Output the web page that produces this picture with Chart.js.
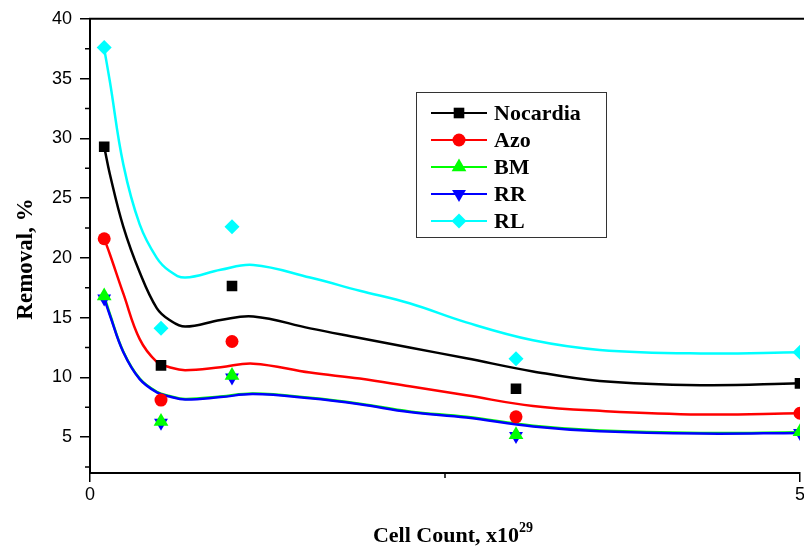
<!DOCTYPE html>
<html>
<head>
<meta charset="utf-8">
<script src="https://cdn.jsdelivr.net/npm/chart.js@4"></script>
<style>
  html, body { margin: 0; padding: 0; background: #fff; overflow: hidden; }
  canvas { display: block; }
</style>
</head>
<body>
<canvas id="grafiek" width="830" height="546"></canvas>
<script>
// meetpunten
var cellCount = [0.1, 0.5, 1, 3, 5];
var nocardia = [29.3, 11.0, 17.65, 9.05, 9.5];
var azo = [21.6, 8.1, 13.0, 6.7, 7.0];
var bm = [16.8, 6.3, 10.15, 5.2, 5.45];
var rr = [16.6, 6.2, 10.0, 5.1, 5.35];
var rl = [37.6, 14.1, 22.6, 11.55, 12.1];

var curveX = [0.1, 0.14, 0.235, 0.35, 0.47, 0.56, 0.67, 0.92, 1.15, 1.55, 1.9, 2.25, 2.65, 3.12, 3.59, 4.3, 5];
var nocardiaFit = [29.3, 27.0, 22.6, 18.8, 15.8, 14.8, 14.25, 14.8, 15.1, 14.1, 13.3, 12.5, 11.6, 10.5, 9.7, 9.35, 9.5];
var azoFit = [21.6, 20.3, 17.0, 13.2, 11.3, 10.85, 10.6, 10.85, 11.15, 10.4, 9.9, 9.25, 8.5, 7.6, 7.2, 6.9, 7.0];
var bmFit = [16.8, 15.3, 12.15, 9.9, 8.8, 8.45, 8.2, 8.4, 8.65, 8.3, 7.8, 7.15, 6.7, 5.95, 5.55, 5.35, 5.4];
var rrFit = [16.6, 15.2, 12.1, 9.85, 8.75, 8.4, 8.15, 8.35, 8.6, 8.25, 7.75, 7.1, 6.65, 5.9, 5.5, 5.3, 5.35];
var rlFit = [37.5, 34.75, 27.8, 22.8, 20.0, 18.9, 18.35, 19.0, 19.4, 18.35, 17.25, 16.2, 14.6, 13.1, 12.3, 12.0, 12.1];

// assen
var xTicks = [0, 5];
var xMinorTicks = [2.5];
var yTicks = [5, 10, 15, 20, 25, 30, 35, 40];
var yMinorTicks = [2.5, 7.5, 12.5, 17.5, 22.5, 27.5, 32.5, 37.5];

var series = [
  { label: 'Nocardia', color: '#000000', style: 'rect', radius: 7.5, rotation: 0, points: nocardia, fit: nocardiaFit },
  { label: 'Azo', color: '#ff0000', style: 'circle', radius: 6.5, rotation: 0, points: azo, fit: azoFit },
  { label: 'BM', color: '#00ff00', style: 'triangle', radius: 8.5, rotation: 0, points: bm, fit: bmFit },
  { label: 'RR', color: '#0000ff', style: 'triangle', radius: 8, rotation: 180, points: rr, fit: rrFit },
  { label: 'RL', color: '#00ffff', style: 'rectRot', radius: 7.5, rotation: 0, points: rl, fit: rlFit }
];

function paren(xs, ys) {
  return xs.map(function (x, i) { return { x: x, y: ys[i] }; });
}

var datasets = [];
// markers eerst (bovenop getekend)
series.forEach(function (s) {
  datasets.push({
    label: s.label,
    data: paren(cellCount, s.points),
    showLine: false,
    pointStyle: s.style,
    pointRadius: s.radius,
    pointRotation: s.rotation,
    pointBackgroundColor: s.color,
    pointBorderColor: s.color,
    pointBorderWidth: 0
  });
});
// fitlijnen, blauw boven groen
[0, 1, 3, 2, 4].forEach(function (i) {
  var s = series[i];
  datasets.push({
    label: s.label + ' fit',
    data: paren(curveX, s.fit),
    showLine: true,
    borderColor: s.color,
    borderWidth: 2.5,
    pointRadius: 0,
    tension: 0.4
  });
});

var extras = {
  id: 'extras',
  afterDraw: function (chart) {
    var c = chart.ctx;
    var a = chart.chartArea;
    var xs = chart.scales.x, ys = chart.scales.y;
    c.save();
    c.strokeStyle = '#000';
    // bovenrand
    c.lineWidth = 2;
    c.beginPath();
    c.moveTo(a.left - 1, a.top);
    c.lineTo(a.right + 40, a.top);
    c.stroke();
    // kleine streepjes
    c.lineWidth = 1.5;
    c.beginPath();
    yMinorTicks.forEach(function (v) {
      var py = ys.getPixelForValue(v);
      c.moveTo(a.left - 5, py);
      c.lineTo(a.left, py);
    });
    xMinorTicks.forEach(function (v) {
      var px = xs.getPixelForValue(v);
      c.moveTo(px, a.bottom);
      c.lineTo(px, a.bottom + 5);
    });
    c.stroke();

    // legenda
    c.fillStyle = '#fff';
    c.fillRect(416, 92, 191, 146);
    c.strokeStyle = '#333';
    c.lineWidth = 1;
    c.strokeRect(416.5, 92.5, 190, 145);
    series.forEach(function (s, i) {
      var y = 113 + i * 27;
      c.strokeStyle = s.color;
      c.lineWidth = 2;
      c.beginPath();
      c.moveTo(431, y);
      c.lineTo(487, y);
      c.stroke();
      c.fillStyle = s.color;
      c.strokeStyle = s.color;
      Chart.helpers.drawPoint(c, { pointStyle: s.style, radius: s.radius, rotation: s.rotation, borderWidth: 0 }, 459, y);
      c.fillStyle = '#000';
      c.font = 'bold 22px "Liberation Serif"';
      c.textBaseline = 'middle';
      c.textAlign = 'left';
      c.fillText(s.label, 494, y + 1);
    });

    // astitels
    c.fillStyle = '#000';
    c.font = 'bold 22px "Liberation Serif"';
    c.textBaseline = 'alphabetic';
    c.textAlign = 'left';
    var hoofd = 'Cell Count, x10';
    var w1 = c.measureText(hoofd).width;
    c.font = 'bold 14px "Liberation Serif"';
    var w2 = c.measureText('29').width;
    var x0 = 453 - (w1 + w2) / 2;
    c.font = 'bold 22px "Liberation Serif"';
    c.fillText(hoofd, x0, 542);
    c.font = 'bold 14px "Liberation Serif"';
    c.fillText('29', x0 + w1, 532);

    c.translate(32, 259);
    c.rotate(-Math.PI / 2);
    c.font = 'bold 23px "Liberation Serif"';
    c.textAlign = 'center';
    c.fillText('Removal, %', 0, 0);
    c.restore();
  }
};

var ctx = document.getElementById('grafiek').getContext('2d');
var chart = new Chart(ctx, {
  type: 'scatter',
  data: { datasets: datasets },
  options: {
    responsive: false,
    animation: false,
    layout: { padding: { left: 0, right: 30, top: 17, bottom: 0 } },
    plugins: { legend: { display: false }, tooltip: { enabled: false } },
    scales: {
      x: {
        type: 'linear',
        min: 0,
        max: 5,
        afterBuildTicks: function (scale) { scale.ticks = xTicks.map(function (v) { return { value: v }; }); },
        afterFit: function (scale) { scale.height = 73; },
        grid: { drawOnChartArea: false, color: '#000', lineWidth: 1.5, tickLength: 9 },
        border: { color: '#000', width: 2 },
        ticks: { color: '#000', font: { family: 'Liberation Sans', size: 18 }, padding: 2, maxRotation: 0 }
      },
      y: {
        type: 'linear',
        min: 2,
        max: 40,
        afterBuildTicks: function (scale) { scale.ticks = yTicks.map(function (v) { return { value: v }; }); },
        afterFit: function (scale) { scale.width = 90; },
        grid: { drawOnChartArea: false, color: '#000', lineWidth: 1.5, tickLength: 10 },
        border: { color: '#000', width: 2 },
        ticks: { color: '#000', font: { family: 'Liberation Sans', size: 18 }, padding: 8 }
      }
    }
  },
  plugins: [extras]
});
</script>
</body>
</html>
